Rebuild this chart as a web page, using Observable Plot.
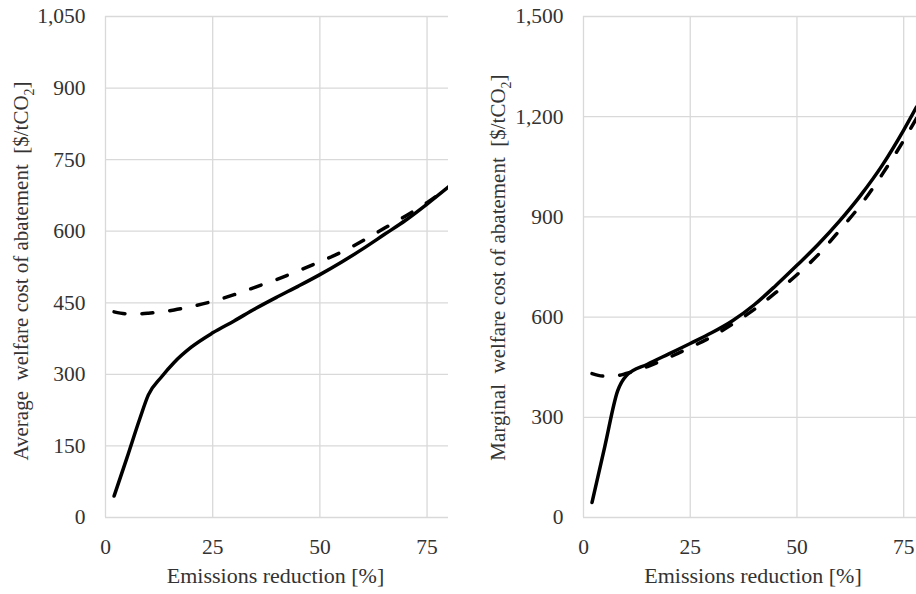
<!DOCTYPE html>
<html>
<head>
<meta charset="utf-8">
<script src="https://cdn.jsdelivr.net/npm/d3@7"></script>
<script src="https://cdn.jsdelivr.net/npm/@observablehq/plot@0.6"></script>
<style>
  html, body { margin: 0; padding: 0; background: #fff; }
  #wrap { display: flex; width: 916px; height: 594px; overflow: hidden; }
  #wrap svg { flex: none; }
</style>
</head>
<body>
<div id="wrap"></div>
<script>
// ---- Data ----
const avgX = [2, 5, 8, 10, 13, 16, 20, 25, 30, 35, 40, 45, 50, 55, 60, 65, 70, 75, 80];
const avgSolid = [45, 125, 207, 257, 294, 325, 357, 387, 412, 438, 462, 485, 509, 535, 563, 593, 623, 657, 693];
const avgDashed = [431, 427, 427, 428, 431, 435, 442, 453, 467, 483, 499, 517, 536, 556, 580, 606, 632, 660, 692];

const margX = [2, 5, 8, 10, 15, 20, 25, 30, 35, 40, 45, 50, 55, 60, 65, 70, 75, 78];
const margSolid = [45, 213, 379, 424, 459, 490, 521, 553, 590, 637, 694, 755, 818, 888, 966, 1055, 1160, 1229];
const margDashed = [431, 423, 425, 431, 452, 479, 509, 541, 580, 623, 673, 727, 787, 860, 937, 1028, 1129, 1195];

const xTicks = [0, 25, 50, 75];
const avgYTicks = [0, 150, 300, 450, 600, 750, 900, 1050];
const margYTicks = [0, 300, 600, 900, 1200, 1500];

const xTitle = "Emissions reduction [%]";
const avgYTitle = "Average  welfare cost of abatement  [$/tCO";
const margYTitle = "Marginal  welfare cost of abatement  [$/tCO";

const FONT = "Liberation Serif";
const GRID = "#d9d9d9";
const TXT = "#333333";

function panel({xs, solid, dashed, xDomain, yDomain, yTicks, width, marginLeft, marginRight, yTitle, yTitleX, yTitleY, xTitleX}) {
  const rowsS = xs.map((x, i) => ({x, y: solid[i]}));
  const rowsD = xs.map((x, i) => ({x, y: dashed[i]}));
  const svg = Plot.plot({
    width, height: 594,
    marginLeft, marginRight, marginTop: 16, marginBottom: 77,
    style: {fontFamily: FONT, fontSize: "21.5px", color: TXT, background: "#fff", overflow: "hidden"},
    x: {domain: xDomain, label: null},
    y: {domain: yDomain, label: null},
    marks: [
      Plot.gridY(yTicks, {stroke: GRID, strokeOpacity: 1, strokeWidth: 1.3}),
      Plot.gridX(xTicks, {stroke: GRID, strokeOpacity: 1, strokeWidth: 1.3}),
      Plot.line(rowsD, {x: "x", y: "y", stroke: "#000", strokeWidth: 3.5, curve: "monotone-x", strokeDasharray: "11,17", strokeLinecap: "round", clip: true}),
      Plot.line(rowsS, {x: "x", y: "y", stroke: "#000", strokeWidth: 3.5, curve: "monotone-x", strokeLinecap: "round", clip: true}),
      Plot.axisX(xTicks, {tickSize: 0, tickPadding: 21, label: null, fill: TXT, fontSize: 21.5}),
      Plot.axisY(yTicks, {tickSize: 0, tickPadding: 20, tickFormat: d3.format(","), label: null, fill: TXT, fontSize: 21.5})
    ]
  });
  const s = d3.select(svg);
  s.attr("font-family", FONT).attr("font-size", 21.5);
  // y-axis title with subscript 2
  const t = s.append("text")
    .attr("transform", `translate(${yTitleX},${yTitleY}) rotate(-90)`)
    .attr("text-anchor", "middle")
    .attr("fill", TXT)
    .attr("font-family", FONT)
    .attr("font-size", 21)
    .attr("xml:space", "preserve")
    .style("white-space", "pre");
  t.append("tspan").text(yTitle);
  t.append("tspan").attr("dy", 6).attr("font-size", 14).text("2");
  t.append("tspan").attr("dy", -6).text("]");
  // x-axis title
  s.append("text")
    .attr("x", xTitleX).attr("y", 583)
    .attr("text-anchor", "middle")
    .attr("fill", TXT)
    .attr("font-family", FONT)
    .attr("font-size", 22)
    .text(xTitle);
  s.selectAll("text, tspan, g").attr("font-family", FONT);
  return svg;
}

const wrap = document.getElementById("wrap");
wrap.appendChild(panel({
  xs: avgX, solid: avgSolid, dashed: avgDashed,
  xDomain: [0, 80], yDomain: [0, 1050], yTicks: avgYTicks,
  width: 458, marginLeft: 105, marginRight: 10,
  yTitle: avgYTitle, yTitleX: 28, yTitleY: 271, xTitleX: 275.5
}));
wrap.appendChild(panel({
  xs: margX, solid: margSolid, dashed: margDashed,
  xDomain: [0, 78], yDomain: [0, 1500], yTicks: margYTicks,
  width: 458, marginLeft: 125, marginRight: 0,
  yTitle: margYTitle, yTitleX: 47, yTitleY: 267.5, xTitleX: 295
}));
</script>
</body>
</html>
